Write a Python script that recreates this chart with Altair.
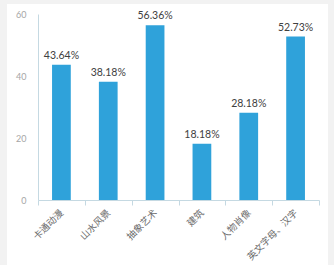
import altair as alt
import pandas as pd

categories = ["卡通动漫", "山水风景", "抽象艺术", "建筑", "人物肖像", "英文字母、汉字"]
values = [43.64, 38.18, 56.36, 18.18, 28.18, 52.73]
value_labels = ["43.64%", "38.18%", "56.36%", "18.18%", "28.18%", "52.73%"]
y_ticks = [0, 20, 40, 60]

df = pd.DataFrame({"cat": categories, "val": values, "lbl": value_labels})

x_enc = alt.X(
    "cat:N",
    sort=categories,
    scale=alt.Scale(paddingInner=0, paddingOuter=0),
    axis=alt.Axis(
        title=None,
        labelAngle=-45,
        labelAlign="right",
        labelBaseline="middle",
        labelFont="Noto Sans CJK SC",
        labelFontSize=9.5,
        labelColor="#6b6b6b",
        labelPadding=6,
        tickBand="extent",
        tickSize=5,
        tickColor="#c5d9e2",
        domainColor="#c5d9e2",
        grid=False,
        zindex=1,
    ),
)
y_enc = alt.Y(
    "val:Q",
    scale=alt.Scale(domain=[0, 60]),
    axis=alt.Axis(
        title=None,
        values=y_ticks,
        tickSize=0,
        labelPadding=12,
        labelColor="#a6a6a6",
        labelFont="Lato",
        labelFontSize=9,
        domainColor="#c5d9e2",
        grid=False,
        zindex=1,
    ),
)

bg = alt.Chart(df).mark_rect(color="white", clip=False).encode(
    x=alt.value(-31), x2=alt.value(290), y=alt.value(-10), y2=alt.value(251)
)

bars = alt.Chart(df).mark_bar(color="#2fa2da", width=alt.RelativeBandSize(0.4)).encode(
    x=x_enc, y=y_enc
)

text = alt.Chart(df).mark_text(
    baseline="bottom", dy=-4, font="Lato", fontSize=10.5, color="#404040"
).encode(x=alt.X("cat:N", sort=categories), y="val:Q", text="lbl:N")

chart = (
    alt.layer(bg, bars, text)
    .properties(
        width=281,
        height=186,
        autosize=alt.AutoSizeParams(type="none"),
        padding={"left": 38, "top": 14, "right": 15, "bottom": 65},
        background="#f2f2f2",
    )
    .configure_view(stroke=None)
)

chart.save("out.html", embed_options={"renderer": "svg", "actions": False})
